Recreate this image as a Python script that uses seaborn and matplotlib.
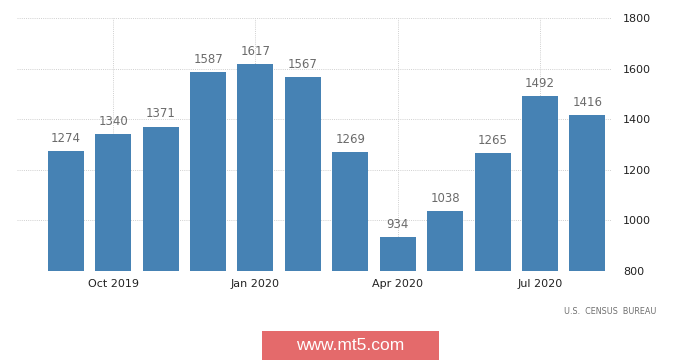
import numpy as np
import pandas as pd
import seaborn as sns
import matplotlib.pyplot as plt
from matplotlib.patches import FancyBboxPatch

# monthly values
months = ["Sep 2019", "Oct 2019", "Nov 2019", "Dec 2019", "Jan 2020", "Feb 2020",
          "Mar 2020", "Apr 2020", "May 2020", "Jun 2020", "Jul 2020", "Aug 2020"]
values = [1274, 1340, 1371, 1587, 1617, 1567, 1269, 934, 1038, 1265, 1492, 1416]
tick_months = ["Oct 2019", "Jan 2020", "Apr 2020", "Jul 2020"]
y_ticks = [800, 1000, 1200, 1400, 1600, 1800]

df = pd.DataFrame({"month": months, "value": values})

sns.set_style("white")
plt.rcParams['font.family'] = ['DejaVu Sans']

fig = plt.figure(figsize=(7, 3.62), dpi=100)
ax = fig.add_axes([17 / 700, 1 - 271 / 362, (612 - 17) / 700, (271 - 18) / 362])

sns.barplot(data=df, x="month", y="value", color="#4682b4", saturation=1,
            width=0.76, ax=ax, zorder=3, edgecolor="none")

ax.set_ylim(800, 1800)
ax.set_xlim(-1.03, 11.52)

# value labels above bars
for i, v in enumerate(values):
    ax.text(i, v + 24, str(v), ha="center", va="bottom", fontsize=8.5, color="#6b6b6b")

# ticks
pos = [months.index(m) for m in tick_months]
ax.set_xticks(pos)
ax.set_xticklabels(tick_months, fontsize=8, color="#222222")
ax.set_yticks(y_ticks)
ax.set_yticklabels([str(t) for t in y_ticks], fontsize=8, color="#222222")
ax.yaxis.tick_right()
ax.tick_params(axis="both", length=0, pad=6)
ax.tick_params(axis="y", pad=8)
ax.set_xlabel("")
ax.set_ylabel("")

# dotted grid
ax.grid(True, axis="both", linestyle=(0, (1, 1.2)), color="#d0d0d0", linewidth=0.7, zorder=0)
ax.set_axisbelow(True)
for s in ax.spines.values():
    s.set_visible(False)

# source text
fig.text(656 / 700, 1 - 312 / 362, "U.S.  CENSUS  BUREAU", ha="right", va="center",
         fontsize=5.8, color="#6f6f6f")

# watermark box
box = FancyBboxPatch((262 / 700, 1 - 360 / 362), 177 / 700, 29 / 362,
                     boxstyle="square,pad=0", transform=fig.transFigure,
                     facecolor="#e46a6b", edgecolor="none")
fig.patches.append(box)
fig.text(350 / 700, 1 - 346 / 362, "www.mt5.com", ha="center", va="center",
         fontsize=12.5, color="white", family=["Liberation Sans", "DejaVu Sans"])

fig.savefig("out.png", dpi=100)
